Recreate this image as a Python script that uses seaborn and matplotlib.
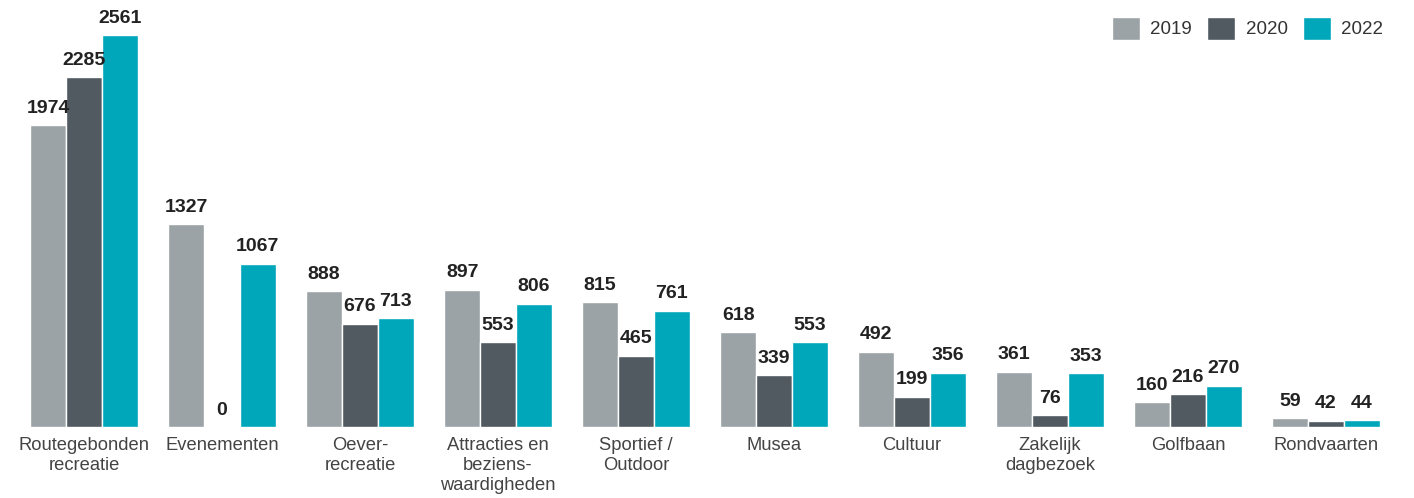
import pandas as pd
import seaborn as sns
import matplotlib.pyplot as plt

categories = ["Routegebonden\nrecreatie", "Evenementen", "Oever-\nrecreatie",
              "Attracties en\nbeziens-\nwaardigheden", "Sportief /\nOutdoor", "Musea",
              "Cultuur", "Zakelijk\ndagbezoek", "Golfbaan", "Rondvaarten"]
years = ["2019", "2020", "2022"]
values_2019 = [1974, 1327, 888, 897, 815, 618, 492, 361, 160, 59]
values_2020 = [2285, 0, 676, 553, 465, 339, 199, 76, 216, 42]
values_2022 = [2561, 1067, 713, 806, 761, 553, 356, 353, 270, 44]
colors = ["#9ca3a6", "#525a61", "#00a7bb"]

rows = []
for year, vals in zip(years, [values_2019, values_2020, values_2022]):
    for cat, v in zip(categories, vals):
        rows.append({"Categorie": cat, "Jaar": year, "Waarde": v})
df = pd.DataFrame(rows)

sns.set_style("white")
plt.rcParams["font.family"] = ["Liberation Sans", "DejaVu Sans"]

fig = plt.figure(figsize=(14.14, 4.98), dpi=100)
ax = fig.add_axes([0, 0.1426, 1, 0.8574])
sns.barplot(data=df, x="Categorie", y="Waarde", hue="Jaar", order=categories,
            hue_order=years, palette=colors, width=0.78, edgecolor="white",
            linewidth=1, saturation=1, ax=ax)

# value labels on top of every bar
for cont in ax.containers:
    ax.bar_label(cont, padding=6, fontsize=14, fontweight="bold", color="#222222")

ax.set_xlim(-0.609, 9.638)
ax.set_ylim(0, 2790)
ax.set_xlabel("")
ax.set_ylabel("")
ax.set_yticks([])
ax.set_xticks(range(len(categories)))
ax.set_xticklabels(categories, linespacing=1.25)
ax.tick_params(axis="x", length=0, pad=7, labelsize=13.2, labelcolor="#444444")
sns.despine(ax=ax, left=True, bottom=True, top=True, right=True)

ax.legend(loc="upper right", bbox_to_anchor=(0.99, 1.0), ncol=3, frameon=False,
          fontsize=13.5, handlelength=1.5, handleheight=1.5, handletextpad=0.55,
          columnspacing=0.8, labelcolor="#333333")

fig.savefig("out.png", dpi=100)
